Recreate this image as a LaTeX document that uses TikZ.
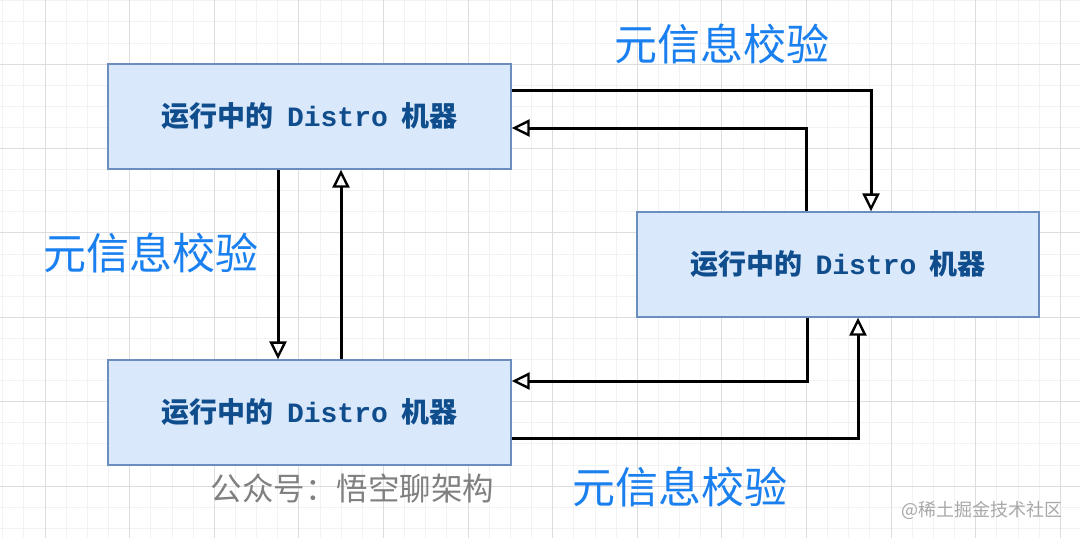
\documentclass[tikz,border=0pt]{standalone}
\usepackage{fontspec}
\usetikzlibrary{arrows.meta}
\newfontfamily\cjk{Noto Sans CJK SC}
\newfontfamily\monob{Liberation Mono}
\definecolor{gridminor}{HTML}{F2F2F2}
\definecolor{gridmajor}{HTML}{DDDDDD}
\definecolor{boxfill}{HTML}{DAE8FC}
\definecolor{boxdraw}{HTML}{6C8EBF}
\definecolor{boxtext}{HTML}{0F4D8C}
\definecolor{lblblue}{HTML}{1A80F0}
\tikzset{
  machine/.style={draw=boxdraw, fill=boxfill, line width=1.3pt, minimum width=403pt, minimum height=105pt, inner sep=0pt, text=boxtext, font=\cjk\bfseries\fontsize{28}{31}\selectfont},
  lbl/.style={text=lblblue, font=\cjk\fontsize{43}{47}\selectfont, inner sep=0pt},
  arr/.style={draw=black, line width=3pt, -{Triangle[open, length=18pt, width=17pt, line width=2.4pt]}},
  wm/.style={inner sep=0pt}
}
\newcommand{\machinetext}{运行中的\hspace{0.48em}{\monob\bfseries Distro}\hspace{0.48em}机器}
\begin{document}
\begin{tikzpicture}[x=1pt,y=-1pt]
\useasboundingbox (0,0) rectangle (1080,538);
\fill[white] (0,0) rectangle (1080,538);
% grid
\foreach \k in {0,...,51} {
  \pgfmathsetmacro\xx{2.7+\k*21.15}
  \draw[gridminor, line width=0.8pt] (\xx,0) -- (\xx,538);
}
\foreach \k in {0,...,25} {
  \pgfmathsetmacro\yy{0.7+\k*21.1}
  \draw[gridminor, line width=0.8pt] (0,\yy) -- (1080,\yy);
}
\foreach \k in {2,6,...,50} {
  \pgfmathsetmacro\xx{2.7+\k*21.15}
  \draw[gridmajor, line width=0.9pt] (\xx,0) -- (\xx,538);
}
\foreach \k in {3,7,...,23} {
  \pgfmathsetmacro\yy{0.7+\k*21.1}
  \draw[gridmajor, line width=0.9pt] (0,\yy) -- (1080,\yy);
}
% boxes
\node[machine] (A) at (309.5,116.5) {\machinetext};
\node[machine, minimum width=402pt] (B) at (838,264.5) {\machinetext};
\node[machine] (C) at (309.5,412.5) {\machinetext};
% connectors
\draw[arr] ([yshift=26.5pt]A.east) -| ([xshift=33pt]B.north);
\draw[arr] ([xshift=-32pt]B.north) |- ([yshift=-11.5pt]A.east);
\draw[arr] ([xshift=-31.5pt]A.south) -- ([xshift=-31.5pt]C.north);
\draw[arr] ([xshift=31.5pt]C.north) -- ([xshift=31.5pt]A.south);
\draw[arr] ([xshift=-31pt]B.south) |- ([yshift=31.5pt]C.east);
\draw[arr] ([yshift=-25.5pt]C.east) -| ([xshift=20pt]B.south);
% labels
\node[lbl] (L1) at (722,44) {元信息校验};
\node[lbl] (L2) at (151,253) {元信息校验};
\node[lbl] (L3) at (680,487) {元信息校验};
% watermarks
\node[wm, text={rgb,255:red,128;green,128;blue,128}, font=\cjk\fontsize{31.5}{35}\selectfont] (W1) at (352.5,488) {公众号：悟空聊架构};
\node[wm, text={rgb,255:red,168;green,168;blue,168}, font=\cjk\fontsize{18}{20}\selectfont] (W2) at (982,510) {@稀土掘金技术社区};
\end{tikzpicture}
\end{document}
